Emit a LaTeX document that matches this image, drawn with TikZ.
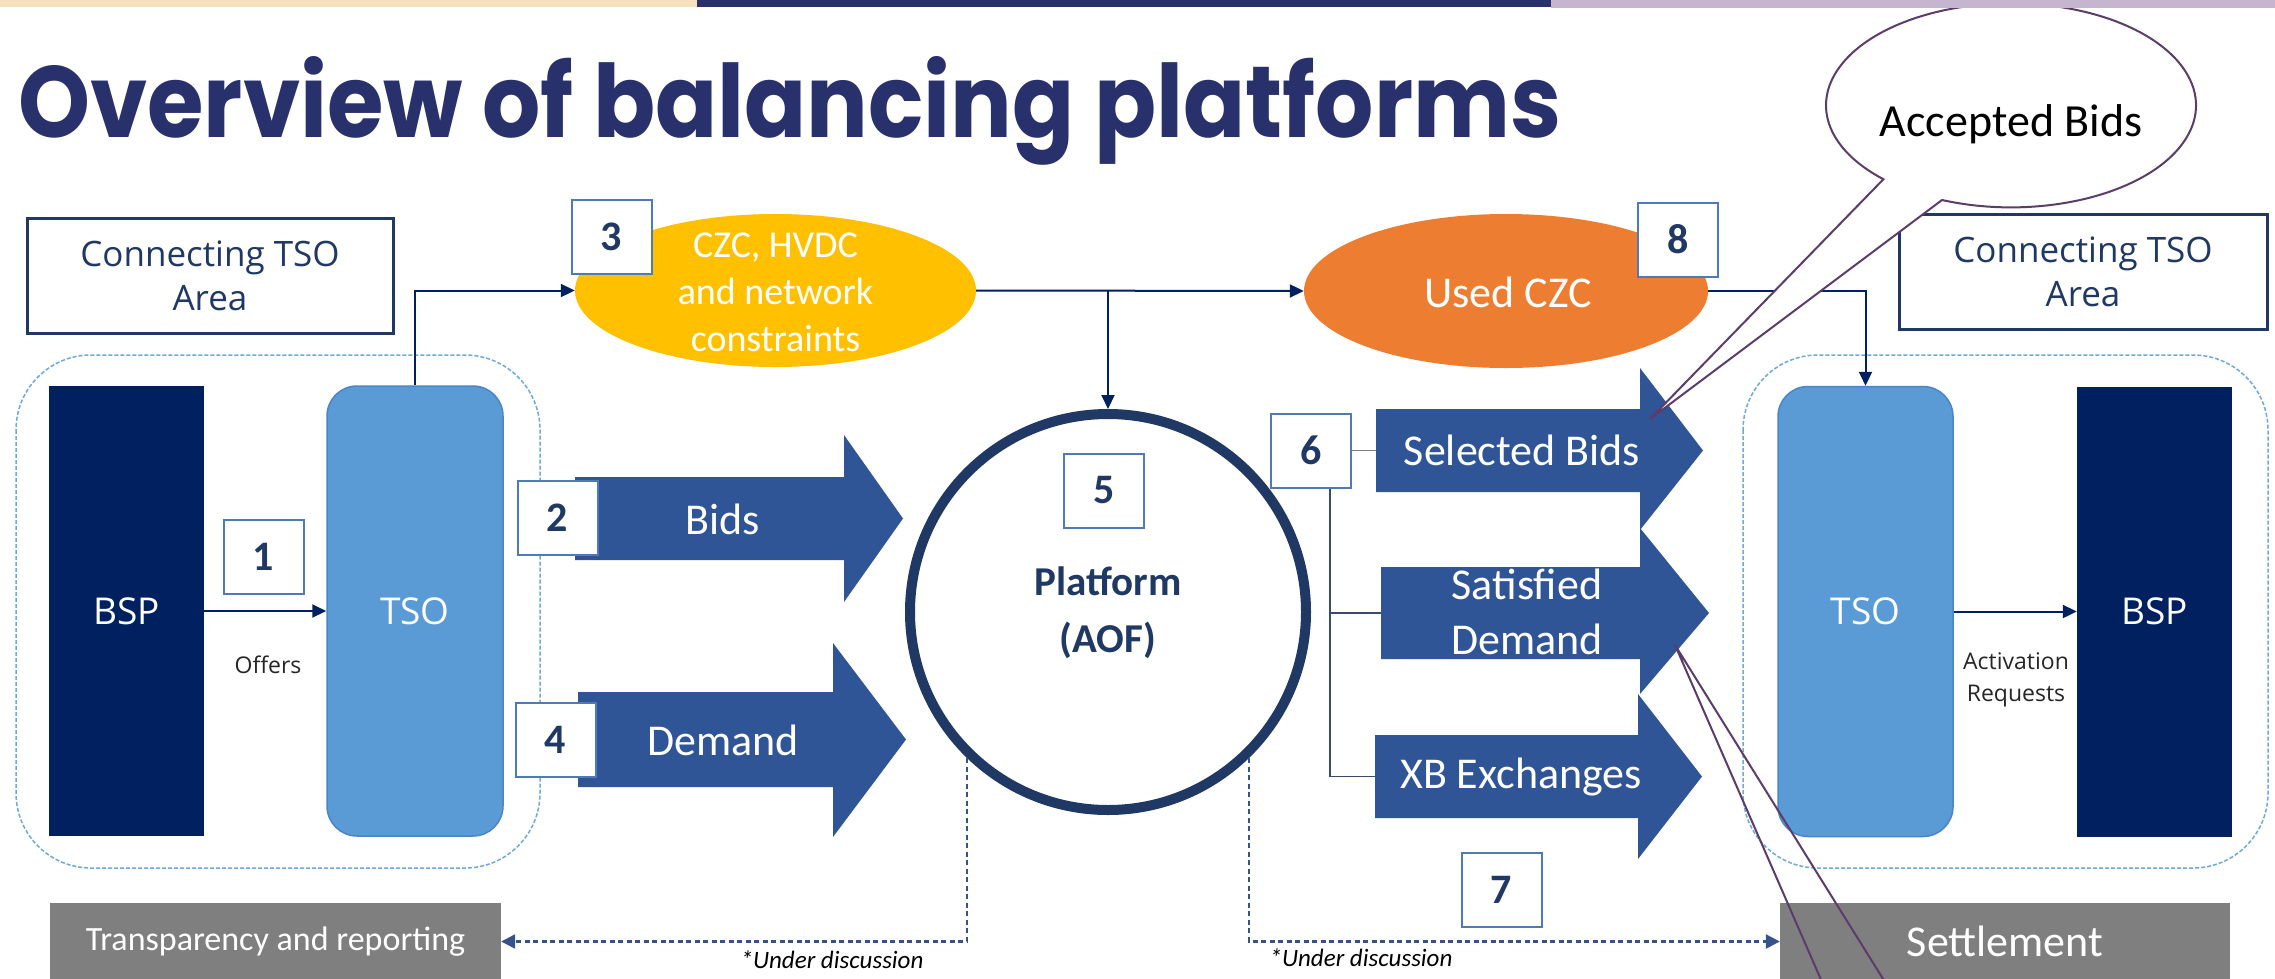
\documentclass[tikz,border=0pt]{standalone}
\usepackage{fontspec}
\usepackage{graphicx}
\setmainfont{Carlito}
\newfontfamily\osans{Open Sans}
\newfontfamily\titlefont{Poppins}
\usetikzlibrary{arrows.meta,calc,shapes.geometric}
\definecolor{navy}{HTML}{002060}
\definecolor{titlec}{HTML}{29316C}
\definecolor{beige}{HTML}{F6E0BE}
\definecolor{lilac}{HTML}{C5B5CF}
\definecolor{darkblue}{HTML}{203864}
\definecolor{numborder}{HTML}{4E7AB5}
\definecolor{arrowblue}{HTML}{2F5597}
\definecolor{tsoblue}{HTML}{5B9BD5}
\definecolor{tsoborder}{HTML}{4A86C5}
\definecolor{regionc}{HTML}{6FA8DC}
\definecolor{czcyellow}{HTML}{FFC000}
\definecolor{czcorange}{HTML}{ED7D31}
\definecolor{greyc}{HTML}{7F7F7F}
\definecolor{calloutc}{HTML}{5C3C6B}
\definecolor{branchc}{HTML}{3A4A6A}
\definecolor{dashc}{HTML}{35528A}
\definecolor{labelc}{HTML}{262626}
\newcommand\blockarr[8]{%
  \fill[arrowblue] (#2,#5) -- (#3,#5) -- (#3,#7) -- (#4,{(#5+#6)/2}) -- (#3,#8) -- (#3,#6) -- (#2,#6) -- cycle;
  \coordinate (#1) at (#2,{(#5+#6)/2});}
\begin{document}
\begin{tikzpicture}[x=1pt,y=-1pt,
  numbox/.style={draw=numborder, line width=2pt, fill=white, minimum width=80pt, minimum height=74pt, inner sep=0pt,
    font=\fontsize{42}{46}\selectfont\bfseries, text=darkblue},
  areabox/.style={draw=darkblue, line width=3pt, fill=white, minimum width=366pt, minimum height=115pt, inner sep=0pt,
    align=center, text=darkblue, font=\osans\fontsize{35}{44}\selectfont},
  bspbox/.style={fill=navy, minimum width=155pt, minimum height=450pt, inner sep=0pt, text=white, font=\osans\fontsize{37}{44}\selectfont},
  tsobox/.style={fill=tsoblue, draw=tsoborder, line width=1.5pt, rounded corners=30pt, minimum width=176pt, minimum height=450pt,
    inner sep=0pt, text=white, font=\osans\fontsize{37}{44}\selectfont},
  region/.style={draw=regionc, line width=1.5pt, dash pattern=on 4pt off 2pt, rounded corners=75pt},
  conn/.style={draw=navy, line width=2pt, -{Triangle[length=14pt,width=13pt]}},
  branch/.style={draw=branchc, line width=1.8pt},
  dconn/.style={draw=dashc, line width=2.4pt, dash pattern=on 5pt off 3.5pt, -{Triangle[length=14pt,width=14pt]}},
  arrlabel/.style={text=white, font=\fontsize{44}{55}\selectfont, align=center},
  greybox/.style={fill=greyc, minimum width=451pt, minimum height=77pt, inner sep=0pt, text=white},
  smalllabel/.style={text=labelc, font=\osans\fontsize{23}{32}\selectfont, align=center},
  discuss/.style={font=\fontsize{25}{30}\selectfont\itshape, text=black},
  callout/.style={draw=calloutc, line width=2pt}
]
\useasboundingbox (0,0) rectangle (2275,978);
\fill[white] (0,0) rectangle (2275,978);

% title
\node[anchor=base west, inner sep=0pt, text=titlec] (title) at (18,137)
  {\resizebox{1543pt}{81pt}{\titlefont\bfseries Overview of balancing platforms}};

% regions
\draw[region] (16,355) rectangle (540,868);
\draw[region] (1743,355) rectangle (2268,868);

% area boxes
\node[areabox] (areaL) at (210,275.5) {Connecting TSO\\Area};
\node[areabox, minimum width=368pt] (areaR) at (2083,272) {Connecting TSO\\Area};

% BSP / TSO
\node[bspbox] (bspL) at (126.5,611) {BSP};
\node[tsobox] (tsoL) at (415,611) {TSO};
\node[tsobox, minimum width=175pt] (tsoR) at (1865.5,611.5) {TSO};
\node[bspbox] (bspR) at (2154.5,611.5) {BSP};

\draw[conn] (bspL.east) -- (tsoL.west);
\node[smalllabel] (offers) at (268,665) {Offers};
\draw[conn] (tsoR.east) -- (bspR.west);
\node[smalllabel] (activ) at (2016,680) {Activation\\Requests};

% ellipses
\node[ellipse, fill=czcyellow, minimum width=401pt, minimum height=153pt, inner sep=0pt] (czc) at (775.5,290.5) {};
\node[arrlabel, font=\fontsize{38}{47}\selectfont] (czctext) at (775.5,292) {CZC, HVDC\\and network\\constraints};
\node[ellipse, fill=czcorange, minimum width=404pt, minimum height=154pt, inner sep=0pt] (used) at (1506,291) {};
\node[arrlabel] (usedtext) at (1508,292) {Used CZC};

% connectors top
\draw[conn] (tsoL.north) |- (czc.west);
\draw[conn] (czc.east) -- (used.west);
\draw[conn] (used.east) -| (tsoR.north);

% block arrows
\blockarr{bidsL}{575}{844}{903}{477}{560}{435}{602}
\blockarr{demL}{578}{833}{906}{692}{787}{643}{837}
\blockarr{selL}{1376}{1640}{1703}{409}{492}{368}{530}
\blockarr{satL}{1381}{1640}{1709}{567}{659}{528}{694}
\blockarr{xbL}{1375}{1638}{1702}{735}{818}{694}{859}
\node[arrlabel] (bidst) at (723,519) {Bids};
\node[arrlabel] (demt) at (723,740) {Demand};
\node[arrlabel] (selt) at (1522,450) {Selected Bids};
\node[arrlabel] (satt) at (1527,612) {Satisfied\\Demand};
\node[arrlabel] (xbt) at (1521,777) {XB Exchanges};

% platform
\node[circle, draw=darkblue, line width=10pt, fill=white, minimum size=396pt, inner sep=0pt] (platform) at (1108,612) {};
\node[font=\fontsize{41}{57}\selectfont\bfseries, text=darkblue, align=center] (plattext) at (1108,613) {Platform\\(AOF)};
\draw[conn] (platform.north |- czc.east) -- (platform.north);

% grey boxes
\node[greybox, font=\fontsize{34}{40}\selectfont] (trans) at (275.5,941.5) {Transparency and reporting};
\node[greybox, minimum width=450pt, font=\fontsize{44}{50}\selectfont] (settle) at (2005,941.5) {Settlement};
\draw[dconn] (platform.226) |- (trans.east);
\draw[dconn] (platform.-46) |- (settle.west);
\node[discuss] (disc1) at (832,960) {*Under discussion};
\node[discuss] (disc2) at (1361,958) {*Under discussion};

% number boxes
\node[numbox] (n1) at (263.5,556.5) {1};
\node[numbox] (n2) at (557.5,518) {2};
\node[numbox] (n3) at (611.5,237) {3};
\node[numbox] (n4) at (555.5,739.5) {4};
\node[numbox] (n5) at (1104,490.5) {5};
\node[numbox] (n6) at (1311,450.5) {6};
\node[numbox] (n7) at (1501.5,890) {7};
\node[numbox] (n8) at (1678,239.5) {8};

% branches from 6
\draw[branch, draw=gray] (n6.east) -- (selL);
\coordinate (v6) at ([xshift=19pt]n6.south);
\draw[branch] (v6) |- (xbL);
\draw[branch] (v6 |- satL) -- (satL);

% callouts
\coordinate (tip1) at (1650,419);
\filldraw[callout, fill=white] (1942,200) arc[start angle=111.9, end angle=-226.4, x radius=185, y radius=102] -- (tip1) -- cycle;
\node[font=\fontsize{46}{50}\selectfont, text=black] (acc) at (2011,124) {Accepted Bids};
\coordinate (tip2) at (1675,645);
\coordinate (c2a) at (1822,982);
\coordinate (c2b) at (1885,982);
\draw[callout] (c2a) -- (tip2) -- (c2b);

% top bars
\fill[beige] (0,0) rectangle (697,7);
\fill[titlec] (697,0) rectangle (1551,7);
\fill[lilac] (1551,0) rectangle (2275,8);
\end{tikzpicture}
\end{document}
